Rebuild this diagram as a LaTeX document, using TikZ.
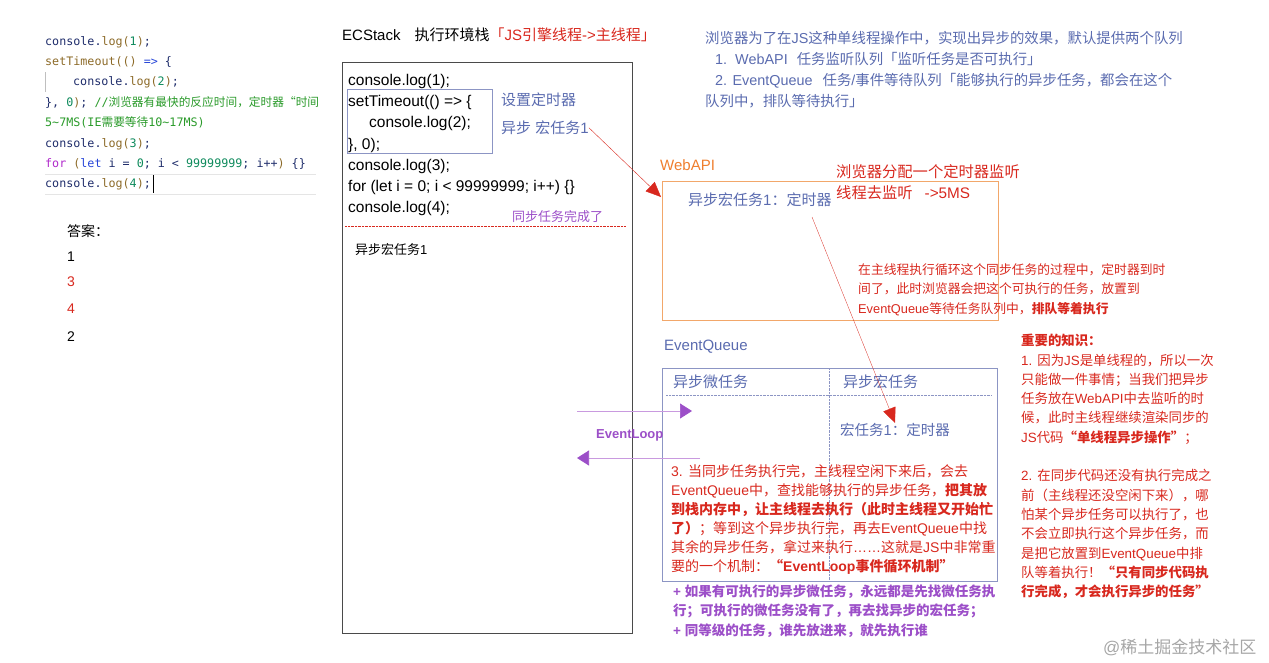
\documentclass[tikz,border=0pt]{standalone}
\usepackage{fontspec}
\setmainfont{Liberation Sans}
\setmonofont{DejaVu Sans Mono}
\newfontfamily\cjkfont{Noto Sans CJK SC}
\usepackage{tikz}
\usetikzlibrary{arrows.meta}
\definecolor{evblue}{HTML}{5A6BAF}
\definecolor{evred}{HTML}{D8281E}
\definecolor{evorange}{HTML}{EF7E2E}
\definecolor{evorangeline}{HTML}{F2A76A}
\definecolor{evpurple}{HTML}{9C4FC8}
\definecolor{evlilac}{HTML}{C99ADF}
\definecolor{evslate}{HTML}{8C95C4}
\definecolor{evgray}{HTML}{4A4A4A}
\definecolor{codenavy}{HTML}{1F2D6B}
\definecolor{codebrown}{HTML}{8C6A28}
\definecolor{codegreen}{HTML}{0E8A5C}
\definecolor{codeblue}{HTML}{2746D8}
\definecolor{codepurple}{HTML}{B02ACB}
\definecolor{codecomment}{HTML}{2A9A2A}
\newcommand\fsz[2]{\fontsize{#1}{#2}\selectfont}
\newcommand\cfn[1]{\textcolor{codebrown}{#1}}
\newcommand\cnum[1]{\textcolor{codegreen}{#1}}
\newcommand\ckw[1]{\textcolor{codeblue}{#1}}
\newcommand\cfor[1]{\textcolor{codepurple}{#1}}
\newcommand\ccom[1]{\textcolor{codecomment}{#1}}
% CJK runs switch to Noto Sans CJK by themselves
\makeatletter
\XeTeXinterchartokenstate=1
\chardef\cjkclass=10
\newcommand\setcjkrange[2]{\count@=#1\relax
  \loop\XeTeXcharclass\count@=\cjkclass
  \ifnum\count@<#2\advance\count@\@ne\repeat}
\setcjkrange{"3000}{"303F}
\setcjkrange{"4E00}{"9FFF}
\setcjkrange{"FF00}{"FFEF}
\XeTeXcharclass"201C=\cjkclass
\XeTeXcharclass"201D=\cjkclass
\newcommand\tocjk{\xdef\latinfam{\f@family}\cjkfont}
\newcommand\fromcjk{\fontfamily{\latinfam}\selectfont}
\XeTeXinterchartoks 0 \cjkclass={\tocjk}
\XeTeXinterchartoks 4095 \cjkclass={\tocjk}
\XeTeXinterchartoks \cjkclass 0={\fromcjk}
\XeTeXinterchartoks \cjkclass 4095={\fromcjk}
\makeatother
\tikzset{
  txt/.style={anchor=base west, inner sep=0pt, align=left},
  panel/.style={draw, anchor=north west, inner sep=0pt, line width=0.8pt},
  notearrow/.style={draw=evred, line width=0.4pt, -{Triangle[length=15pt,width=13pt,color=evred]}},
  looparrow/.style={draw=evlilac, line width=0.7pt, -{Triangle[length=12pt,width=15pt,color=evpurple]}},
}

\begin{document}
\begin{tikzpicture}[x=1pt,y=-1pt]
    \useasboundingbox (0,0) rectangle (1269,662);
    % Frames
    \node[panel, draw=evgray, minimum width=290pt, minimum height=571pt] (stack) at (342,62) {};
    \node[panel, draw=evslate, line width=0.6pt, minimum width=145pt, minimum height=64pt] (timerbox) at (347,89) {};
    \node[panel, draw=evorangeline, minimum width=336pt, minimum height=139pt] (webapi) at (662,181) {};
    \node[panel, draw=evslate, minimum width=335pt, minimum height=213pt] (queue) at (662,368) {};
    \draw[evslate, densely dotted] (829,368) -- (829,581);
    \draw[evslate, densely dotted] (666,395) -- (992,395);
    \draw[evred, densely dotted] (345,226) -- (626,226);
    % Source code (multi-line nodes sit on their last baseline)
    \begin{scope}
        \clip (40,20) rectangle (317,200);
        \draw[black!10] (45,174) -- (316,174) (45,194) -- (316,194);
        \draw[black!25] (45,72) -- (45,92);
        \draw[black, line width=0.6pt] (153,175) -- (153,193);
        \node[txt, text=codenavy, font=\ttfamily\fsz{11.7}{20.4}] (snippet) at (45,{45+7*20.4}) {%
            console.\cfn{log(}\cnum{1}\cfn{)};\\
            \cfn{setTimeout(()} \ckw{=>} \{\\
            \hspace*{28pt}console.\cfn{log(}\cnum{2}\cfn{)};\\
            \}, \cnum{0}\cfn{)}; \ccom{//浏览器有最快的反应时间，定时器“时间间}\\
            \ccom{5\textasciitilde 7MS(IE需要等待10\textasciitilde 17MS)}\\
            console.\cfn{log(}\cnum{3}\cfn{)};\\
            \cfor{for} \cfn{(}\ckw{let} i = \cnum{0}; i < \cnum{99999999}; i++\cfn{)} \{\}\\
            console.\cfn{log(}\cnum{4}\cfn{)};};
    \end{scope}
    % Answer
    \node[txt, font=\fsz{14}{20}] (answer) at (67,236.9) {答案：};
    \node[txt, font=\fsz{14}{20}] (out1) at (67,261) {1};
    \node[txt, font=\fsz{14}{20}, text=evred] (out3) at (67,286.7) {3};
    \node[txt, font=\fsz{14}{20}, text=evred] (out4) at (67,313) {4};
    \node[txt, font=\fsz{14}{20}] (out2) at (67,341) {2};
    % Call stack
    \node[txt, font=\fsz{15}{18}] (ectitle) at (342,40.5) {ECStack\hspace{14pt}执行环境栈\textcolor{evred}{「JS引擎线程->主线程」}};
    \node[txt, font=\fsz{15.5}{21.1}] (stackcode) at (348,{85.7+6*21.1}) {console.log(1);\\
        setTimeout(() => \{\\
        \hspace*{21pt}console.log(2);\\
        \}, 0);\\
        console.log(3);\\
        for (let i = 0; i < 99999999; i++) \{\}\\
        console.log(4);};
    \node[txt, text=evblue, font=\fsz{15}{18}] (settimer) at (501,105.5) {设置定时器};
    \node[txt, text=evblue, font=\fsz{15}{18}] (macrotask) at (501,133.5) {异步 宏任务1};
    \node[txt, text=evpurple, font=\fsz{13}{16}] (syncdone) at (512,221.5) {同步任务完成了};
    \node[txt, font=\fsz{13}{16}] (pending) at (355,254.8) {异步宏任务1};
    % Queues note
    \node[txt, text=evblue, font=\fsz{14.4}{21.1}] (queuesnote) at (705,{43.6+3*21.1}) {浏览器为了在JS这种单线程操作中，实现出异步的效果，默认提供两个队列\\
        \hspace*{10pt}1.\hspace{8pt}WebAPI\hspace{9pt}任务监听队列「监听任务是否可执行」\\
        \hspace*{10pt}2. EventQueue\hspace{10pt}任务/事件等待队列「能够执行的异步任务，都会在这个\\
        队列中，排队等待执行」};
    % WebAPI
    \node[txt, text=evorange, font=\fsz{15}{18}] (apilabel) at (660,170.5) {WebAPI};
    \node[txt, text=evblue, font=\fsz{15}{18}] (timerwatch) at (688,205.5) {异步宏任务1：定时器};
    \node[txt, text=evred, font=\fsz{15.3}{20.7}] (assign) at (836,{177.7+20.7}) {浏览器分配一个定时器监听\\线程去监听\hspace{12pt}->5MS};
    \node[txt, text=evred, font=\fsz{12.8}{19.2}] (expire) at (858,{274.7+2*19.2}) {在主线程执行循环这个同步任务的过程中，定时器到时\\
        间了，此时浏览器会把这个可执行的任务，放置到\\
        EventQueue等待任务队列中，\textbf{排队等着执行}};
    % EventQueue
    \node[txt, text=evblue, font=\fsz{15}{18}] (queuelabel) at (664,350.5) {EventQueue};
    \node[txt, text=evblue, font=\fsz{15}{18}] (microcol) at (673,387.2) {异步微任务};
    \node[txt, text=evblue, font=\fsz{15}{18}] (macrocol) at (843,387.2) {异步宏任务};
    \node[txt, text=evblue, font=\fsz{14.5}{18}] (queuedtimer) at (840,435.4) {宏任务1：定时器};
    % Event loop
    \node[txt, text=evpurple, font=\bfseries\fsz{13}{16}] (eventloop) at (596,438.1) {EventLoop};
    \coordinate (loopinstart) at (577,411);
    \coordinate (loopinend) at (692,411);
    \coordinate (loopoutstart) at (700,458);
    \coordinate (loopoutend) at (577,458);
    \draw[looparrow] (loopinstart) -- (loopinend);
    \draw[looparrow] (loopoutstart) -- (loopoutend);
    \node[txt, text=evred, font=\fsz{14}{19}] (loopnote) at (671,{476.9+5*19}) {3. 当同步任务执行完，主线程空闲下来后，会去\\
        EventQueue中，查找能够执行的异步任务，\textbf{把其放}\\
        \textbf{到栈内存中，让主线程去执行（此时主线程又开始忙}\\
        \textbf{了）}；等到这个异步执行完，再去EventQueue中找\\
        其余的异步任务，拿过来执行……这就是JS中非常重\\
        要的一个机制：\textbf{“EventLoop事件循环机制”}};
    \node[txt, text=evpurple, font=\bfseries\fsz{13.5}{19.2}] (priority) at (673,{596.7+2*19.2}) {+ 如果有可执行的异步微任务，永远都是先找微任务执\\
        行；可执行的微任务没有了，再去找异步的宏任务；\\
        + 同等级的任务，谁先放进来，就先执行谁};
    % Key points
    \node[txt, text=evred, font=\fsz{13.4}{19.3}] (knowledge) at (1021,{345.7+13*19.3}) {\textbf{重要的知识：}\\
        1. 因为JS是单线程的，所以一次\\
        只能做一件事情；当我们把异步\\
        任务放在WebAPI中去监听的时\\
        候，此时主线程继续渲染同步的\\
        JS代码\textbf{“单线程异步操作”}；\\
        \\
        2. 在同步代码还没有执行完成之\\
        前（主线程还没空闲下来），哪\\
        怕某个异步任务可以执行了，也\\
        不会立即执行这个异步任务，而\\
        是把它放置到EventQueue中排\\
        队等着执行！\textbf{“只有同步代码执}\\
        \textbf{行完成，才会执行异步的任务”}};
    \node[txt, text=black!35, font=\fsz{17}{20}] (mark) at (1103,653) {@稀土掘金技术社区};
    % Connectors
    \coordinate (apientry) at (661,197);
    \coordinate (timerlink) at (812,217);
    \draw[notearrow] (macrotask.east) -- (apientry);
    \draw[notearrow, line width=0.3pt] (timerlink) -- (queuedtimer.north);
\end{tikzpicture}
\end{document}
